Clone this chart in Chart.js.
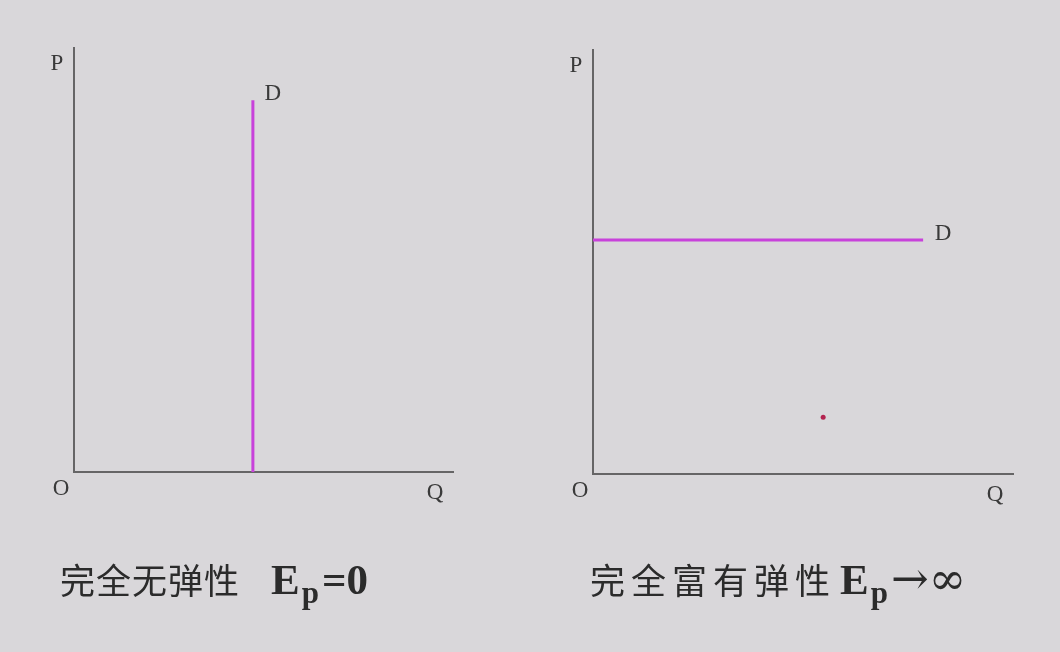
<!DOCTYPE html>
<html>
<head>
<meta charset="utf-8">
<script src="https://cdn.jsdelivr.net/npm/chart.js@4/dist/chart.umd.min.js"></script>
<style>
html, body { margin: 0; padding: 0; background: #d9d7da; }
#wrap { position: relative; width: 1060px; height: 652px; overflow: hidden; }
canvas { position: absolute; left: 0; top: 0; }
.cap { position: absolute; top: 554px; font-family: "Noto Sans CJK SC"; font-size: 35px; color: #2b2b2b; white-space: nowrap; line-height: 50px; }
.cap b { font-family: "Liberation Serif"; font-weight: bold; font-size: 43px; letter-spacing: 0; }
.cap sub { font-family: "Liberation Serif"; font-weight: bold; font-size: 31px; vertical-align: -9px; line-height: 0; margin-left: 2px; margin-right: 3px; }
.cap span { font-family: "DejaVu Serif"; font-size: 45px; letter-spacing: 0; }
</style>
</head>
<body>
<div id="wrap">
  <canvas id="left" width="1060" height="652"></canvas>
  <canvas id="right" width="1060" height="652"></canvas>
  <div class="cap" style="left:60px;letter-spacing:1px">完全无弹性<b style="margin-left:31px">E<sub>p</sub>=0</b></div>
  <div class="cap" style="left:590px;letter-spacing:6px">完全富有弹性<b style="margin-left:4px">E<sub>p</sub></b><span>→∞</span></div>
</div>
<script>
// axis letters and curve name
const axisNames = ['P', 'O', 'Q'];
const curveName = 'D';

// perfectly inelastic demand: vertical line (Q fixed)
const inelasticQ = [4.72, 4.72];
const inelasticP = [0, 8.77];

// perfectly elastic demand: horizontal line (P fixed)
const elasticQ = [0, 7.86];
const elasticP = [5.52, 5.52];

// stray dot in the right panel
const dotQ = [5.48];
const dotP = [1.34];

const AXIS_COLOR = '#666566';
const LINE_COLOR = '#c842da';

function toPoints(xs, ys) {
	return xs.map((x, i) => ({x: x, y: ys[i]}));
}

const textPlugin = {
	id: 'axisText',
	afterDraw(chart) {
		const {ctx, chartArea: a, scales: {x, y}} = chart;
		const line = chart.data.datasets[0].data;
		const end = line[line.length - 1];
		ctx.save();
		ctx.font = '23px "Liberation Serif"';
		ctx.fillStyle = '#3a3a3a';
		ctx.textAlign = 'center';
		ctx.textBaseline = 'middle';
		ctx.fillText(axisNames[0], a.left - 17, a.top + 16);
		ctx.fillText(axisNames[1], a.left - 13, a.bottom + 17);
		ctx.fillText(axisNames[2], a.right - 18, a.bottom + 21);
		ctx.fillText(curveName, x.getPixelForValue(end.x) + 20, y.getPixelForValue(end.y) - 6);
		ctx.restore();
	}
};

function axis() {
	return {
		type: 'linear',
		min: 0,
		max: 10,
		grid: {display: false, drawTicks: false},
		ticks: {display: false},
		border: {display: true, color: AXIS_COLOR, width: 2}
	};
}

function drawPanel(id, datasets, pad) {
	new Chart(document.getElementById(id), {
		type: 'scatter',
		data: {datasets: datasets},
		options: {
			responsive: false,
			animation: false,
			layout: {padding: pad},
			plugins: {legend: {display: false}, tooltip: {enabled: false}},
			scales: {x: axis(), y: axis()}
		},
		plugins: [textPlugin]
	});
}

drawPanel('left', [{
	data: toPoints(inelasticQ, inelasticP),
	showLine: true,
	borderColor: LINE_COLOR,
	borderWidth: 3,
	pointRadius: 0
}], {left: 74, right: 1060 - 453, top: 48, bottom: 652 - 472});

drawPanel('right', [{
	data: toPoints(elasticQ, elasticP),
	showLine: true,
	borderColor: LINE_COLOR,
	borderWidth: 3,
	pointRadius: 0
}, {
	data: toPoints(dotQ, dotP),
	pointRadius: 2.5,
	pointBackgroundColor: '#b3234f',
	pointBorderWidth: 0
}], {left: 593, right: 1060 - 1013, top: 50, bottom: 652 - 474});
</script>
</body>
</html>
